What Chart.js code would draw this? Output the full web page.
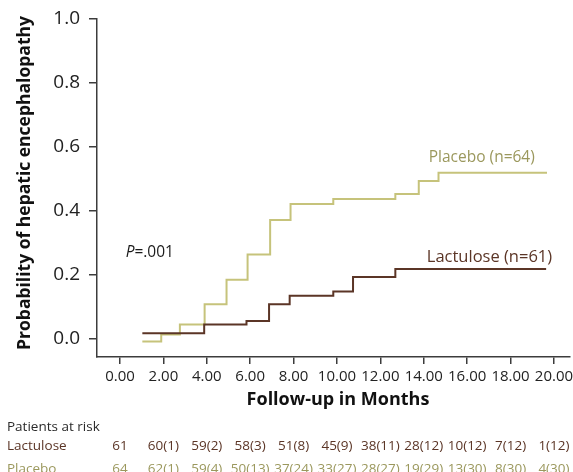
<!DOCTYPE html>
<html>
<head>
<meta charset="utf-8">
<script src="https://cdn.jsdelivr.net/npm/chart.js@4"></script>
<style>
  body { margin: 0; background: #fff; }
</style>
</head>
<body>
<canvas id="kmChart" width="573" height="472"></canvas>
<script>
// step times (months) and cumulative probability
const placeboMonths = [1.03, 1.90, 2.76, 3.90, 4.91, 5.88, 6.92, 7.86, 9.83, 12.69, 13.77, 14.68, 19.68];
const placeboProb = [-0.009, 0.013, 0.044, 0.107, 0.184, 0.263, 0.371, 0.421, 0.437, 0.452, 0.493, 0.519, 0.519];
const lactuloseMonths = [1.03, 3.88, 5.83, 6.87, 7.82, 9.83, 10.74, 12.69, 19.64];
const lactuloseProb = [0.017, 0.044, 0.055, 0.107, 0.134, 0.147, 0.193, 0.218, 0.218];

const xTicks = [0, 2, 4, 6, 8, 10, 12, 14, 16, 18, 20];
const yTicks = [0, 0.2, 0.4, 0.6, 0.8, 1.0];

// patients at risk (events), one entry per x tick
const lactuloseAtRisk = ["61", "60(1)", "59(2)", "58(3)", "51(8)", "45(9)", "38(11)", "28(12)", "10(12)", "7(12)", "1(12)"];
const placeboAtRisk = ["64", "62(1)", "59(4)", "50(13)", "37(24)", "33(27)", "28(27)", "19(29)", "13(30)", "8(30)", "4(30)"];

const placeboLine = "#c6c37b";
const placeboText = "#9b985d";
const lactuloseLine = "#5b3526";
const lactuloseText = "#5b3526";
const axisColor = "#3c3c3c";
const fontFamily = "'Open Sans', sans-serif";

function toPoints(xs, ys) {
    return xs.map((x, i) => ({ x: x, y: ys[i] }));
}

// texts drawn on the canvas: axis titles, group labels, p value, risk table
const annotations = {
    id: "annotations",
    afterDraw(chart) {
        const ctx = chart.ctx;
        const xs = chart.scales.x;
        const ys = chart.scales.y;
        ctx.save();

        // axis titles
        ctx.fillStyle = "#111";
        ctx.textAlign = "center";
        ctx.textBaseline = "middle";
        ctx.font = "bold 18px " + fontFamily;
        ctx.fillText("Follow-up in Months", 338, 400);
        ctx.save();
        ctx.translate(25.5, 183);
        ctx.rotate(-Math.PI / 2);
        ctx.font = "bold 17.5px " + fontFamily;
        ctx.fillText("Probability of hepatic encephalopathy", 0, 0);
        ctx.restore();

        ctx.textAlign = "left";
        ctx.textBaseline = "alphabetic";
        ctx.font = "15.5px " + fontFamily;
        ctx.fillStyle = placeboText;
        ctx.fillText("Placebo (n=64)", xs.getPixelForValue(14.23), ys.getPixelForValue(0.554));
        ctx.font = "16.5px " + fontFamily;
        ctx.fillStyle = lactuloseText;
        ctx.fillText("Lactulose (n=61)", xs.getPixelForValue(14.14), ys.getPixelForValue(0.24));

        // P=.001 with italic P
        let px = xs.getPixelForValue(0.26);
        let py = ys.getPixelForValue(0.256);
        ctx.fillStyle = "#1a1a1a";
        ctx.font = "italic 15.5px " + fontFamily;
        ctx.fillText("P", px, py);
        px += ctx.measureText("P").width;
        ctx.font = "15.5px " + fontFamily;
        ctx.fillText("=.001", px, py);

        // patients at risk
        ctx.font = "13.5px " + fontFamily;
        ctx.fillStyle = "#2a2a2a";
        ctx.fillText("Patients at risk", 7, 430.7);
        ctx.fillStyle = lactuloseText;
        ctx.fillText("Lactulose", 7, 450);
        ctx.fillStyle = placeboText;
        ctx.fillText("Placebo", 7, 473.4);

        ctx.textAlign = "center";
        xTicks.forEach((m, i) => {
            const cx = xs.getPixelForValue(m);
            ctx.fillStyle = lactuloseText;
            ctx.fillText(lactuloseAtRisk[i], cx, 450);
            ctx.fillStyle = placeboText;
            ctx.fillText(placeboAtRisk[i], cx, 473.4);
        });
        ctx.restore();
    }
};

new Chart(document.getElementById("kmChart"), {
    type: "line",
    data: {
        datasets: [
            {
                label: "Lactulose",
                data: toPoints(lactuloseMonths, lactuloseProb),
                borderColor: lactuloseLine,
                borderWidth: 2,
                stepped: "before",
                pointRadius: 0,
                fill: false
            },
            {
                label: "Placebo",
                data: toPoints(placeboMonths, placeboProb),
                borderColor: placeboLine,
                borderWidth: 2,
                stepped: "before",
                pointRadius: 0,
                fill: false
            }
        ]
    },
    options: {
        responsive: false,
        animation: false,
        layout: { padding: { left: 15, right: 3, top: 19, bottom: 61 } },
        plugins: {
            legend: { display: false },
            tooltip: { enabled: false }
        },
        scales: {
            x: {
                type: "linear",
                min: -1.06,
                max: 20.74,
                afterBuildTicks: (s) => { s.ticks = xTicks.map((v) => ({ value: v })); },
                afterFit: (s) => { s.height = 54; s.paddingLeft = 0; s.paddingRight = 0; },
                grid: { drawOnChartArea: false, tickLength: 7, color: axisColor, lineWidth: 1.5 },
                border: { color: axisColor, width: 1.5 },
                ticks: {
                    autoSkip: false,
                    maxRotation: 0,
                    padding: 4,
                    color: "#222",
                    font: { family: fontFamily, size: 15 },
                    callback: (v) => Number(v).toFixed(2)
                }
            },
            y: {
                min: -0.0577,
                max: 1.0,
                afterBuildTicks: (s) => { s.ticks = yTicks.map((v) => ({ value: v })); },
                afterFit: (s) => { s.width = 82; s.paddingTop = 0; s.paddingBottom = 0; },
                grid: { drawOnChartArea: false, tickLength: 8, color: axisColor, lineWidth: 1.5 },
                border: { color: axisColor, width: 1.5 },
                ticks: {
                    padding: 9,
                    color: "#222",
                    font: { family: fontFamily, size: 19 },
                    callback: (v) => Number(v).toFixed(1)
                }
            }
        }
    },
    plugins: [annotations]
});
</script>
</body>
</html>
